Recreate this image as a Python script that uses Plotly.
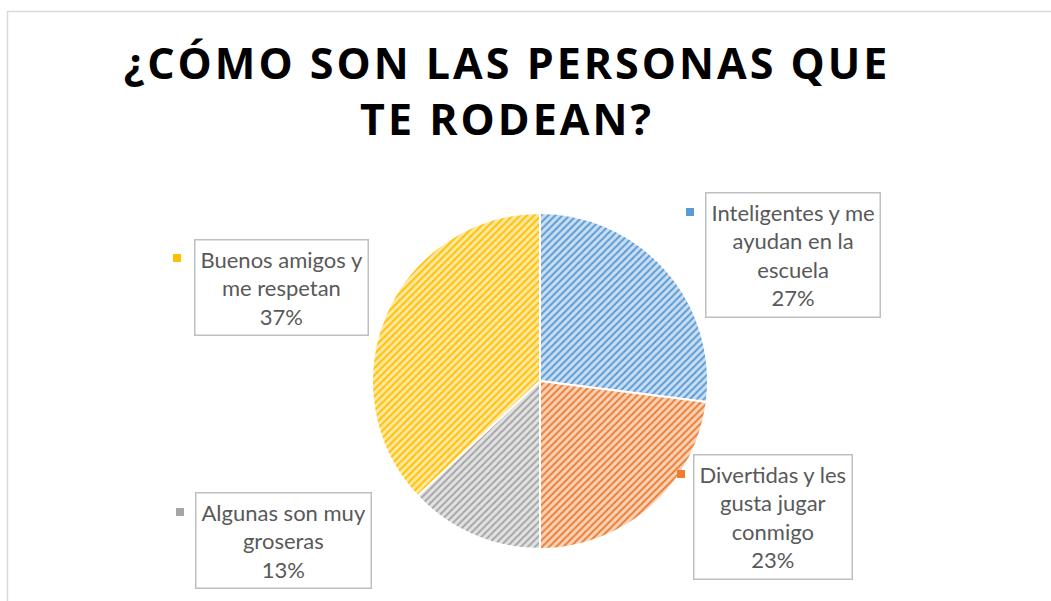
import plotly.graph_objects as go

categories = ["Inteligentes y me ayudan en la escuela",
              "Divertidas y les gusta jugar conmigo",
              "Algunas son muy groseras",
              "Buenos amigos y me respetan"]
label_lines = [["Inteligentes y me", "ayudan en la", "escuela"],
               ["Divertidas y les", "gusta jugar", "conmigo"],
               ["Algunas son muy", "groseras"],
               ["Buenos amigos y", "me respetan"]]
values = [27, 23, 13, 37]
fg_colors = ["#5b9bd5", "#ed7d31", "#a5a5a5", "#ffc000"]
bg_colors = ["#c9def2", "#f9d3b9", "#e2e2e2", "#ffe8a3"]
title_lines = ["¿CÓMO SON LAS PERSONAS QUE", "TE RODEAN?"]

W, H = 1051, 601
cx, cy, r = 540, 381, 168

fig = go.Figure()
fig.add_trace(go.Pie(
    labels=categories, values=values, sort=False, direction="clockwise",
    rotation=0, textinfo="none", hoverinfo="label+percent",
    marker=dict(colors=bg_colors, line=dict(color="white", width=2),
                pattern=dict(shape="/", fgcolor=fg_colors, bgcolor=bg_colors,
                             size=5, solidity=0.4, fillmode="replace")),
    domain=dict(x=[(cx - r) / W, (cx + r) / W], y=[(H - cy - r) / H, (H - cy + r) / H]),
    showlegend=False,
))

box_pos = [(793, 255), (773, 517), (283, 540), (281, 287)]
key_pos = [(690, 212), (681, 474), (180, 512), (177, 258)]
total = sum(values)
annotations = []
shapes = [dict(type="rect", xref="paper", yref="paper", x0=7.5 / W, x1=1.05,
               y0=-0.05, y1=1 - 11.5 / H, line=dict(color="#d9d9d9", width=1.5))]
for i, cat in enumerate(categories):
    pct = round(values[i] / total * 100)
    txt = "<br>".join(label_lines[i] + [f"{pct}%"])
    bx, by = box_pos[i]
    annotations.append(dict(
        x=bx / W, y=1 - by / H, xref="paper", yref="paper", text=txt,
        showarrow=False, align="center", xanchor="center", yanchor="middle",
        font=dict(family="Lato", size=22, color="#595959"),
        bordercolor="#bfbfbf", borderwidth=1.5, borderpad=5, bgcolor="white"))
    kx, ky = key_pos[i]
    shapes.append(dict(type="rect", xref="paper", yref="paper",
                       x0=(kx - 4) / W, x1=(kx + 4) / W,
                       y0=1 - (ky + 4) / H, y1=1 - (ky - 4) / H,
                       fillcolor=fg_colors[i], line=dict(width=0)))

title_text = "<br>".join(f'<span style="letter-spacing:3px">{t}</span>' for t in title_lines)
fig.update_layout(
    width=W, height=H, margin=dict(l=0, r=0, t=0, b=0),
    paper_bgcolor="white", plot_bgcolor="white",
    title=dict(text=title_text, x=507 / W, xanchor="center", y=1 - 79 / H, yanchor="middle",
               font=dict(family="Open Sans", size=43, color="black", weight=700)),
    annotations=annotations, shapes=shapes,
)
fig.write_html("out.html", config={"displayModeBar": False},
               post_script="document.body.style.margin='0';")
